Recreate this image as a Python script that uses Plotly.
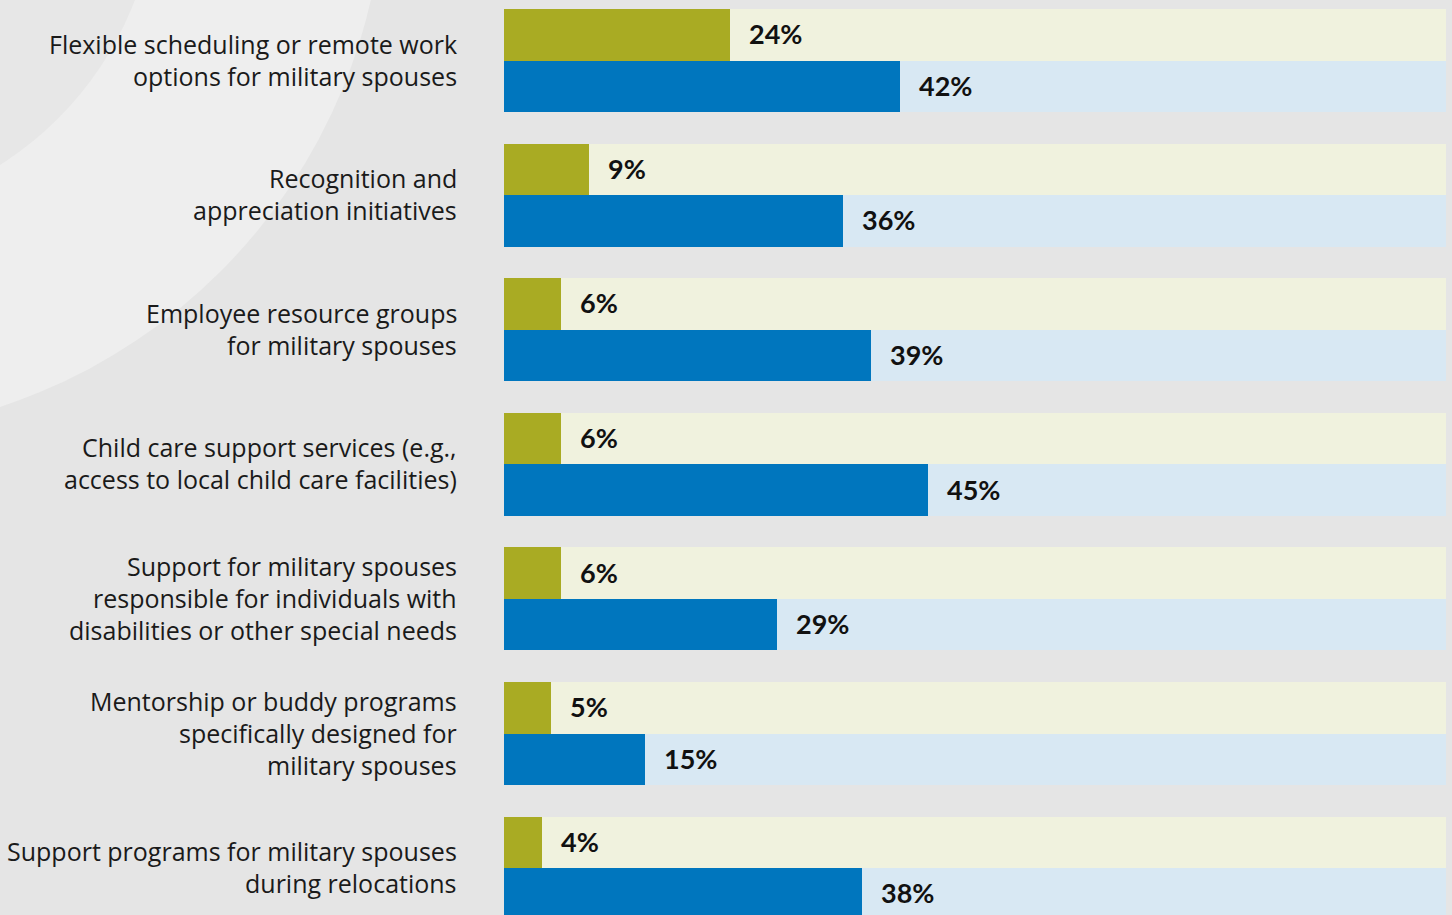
import plotly.graph_objects as go

# Survey items (top to bottom); <br> marks line breaks
categories = [
    "Flexible scheduling or remote work<br>options for military spouses",
    "Recognition and<br>appreciation initiatives",
    "Employee resource groups<br>for military spouses",
    "Child care support services (e.g.,<br>access to local child care facilities)",
    "Support for military spouses<br>responsible for individuals with<br>disabilities or other special needs",
    "Mentorship or buddy programs<br>specifically designed for<br>military spouses",
    "Support programs for military spouses<br>during relocations",
]
series_olive = [24, 9, 6, 6, 6, 5, 4]
series_blue = [42, 36, 39, 45, 29, 15, 38]
full_scale = [100] * len(categories)

OLIVE = "#a9ab23"
OLIVE_LIGHT = "#f0f2de"
BLUE = "#0076be"
BLUE_LIGHT = "#d8e8f3"

W, H = 1452, 915
PLOT_L, PLOT_R = 504, 1446
GROUP_PITCH = 134.6
FIRST_CENTER = 60.5
OFF = 0.1915
BAR_W = 0.383
LINE_H = 32

idx = list(range(len(categories)))
y_olive = [i - OFF for i in idx]
y_blue = [i + OFF for i in idx]

fig = go.Figure()
# full-width light tracks
fig.add_trace(go.Bar(x=full_scale, y=y_olive, orientation="h", width=BAR_W,
                     marker=dict(color=OLIVE_LIGHT, line=dict(width=0)),
                     hoverinfo="skip", showlegend=False))
fig.add_trace(go.Bar(x=full_scale, y=y_blue, orientation="h", width=BAR_W,
                     marker=dict(color=BLUE_LIGHT, line=dict(width=0)),
                     hoverinfo="skip", showlegend=False))
# value bars
fig.add_trace(go.Bar(x=series_olive, y=y_olive, orientation="h", width=BAR_W,
                     marker=dict(color=OLIVE, line=dict(width=0)), showlegend=False))
fig.add_trace(go.Bar(x=series_blue, y=y_blue, orientation="h", width=BAR_W,
                     marker=dict(color=BLUE, line=dict(width=0)), showlegend=False))

annotations = []
for vals, ys in ((series_olive, y_olive), (series_blue, y_blue)):
    for v, yv in zip(vals, ys):
        annotations.append(dict(
            x=v, y=yv, xref="x", yref="y", text=f"<b>{v}%</b>",
            showarrow=False, xanchor="left", yanchor="middle", xshift=17, yshift=1,
            font=dict(family="Lato", size=27, color="#111111")))

# category labels, one annotation per line for exact line spacing
for i, cat in enumerate(categories):
    lines = cat.split("<br>")
    n = len(lines)
    for k, line in enumerate(lines):
        annotations.append(dict(
            x=0, y=i, xref="paper", yref="y", text=line, showarrow=False,
            xanchor="right", yanchor="middle", xshift=-45,
            yshift=-(k - (n - 1) / 2) * LINE_H + 1,
            font=dict(family="Open Sans", size=25, color="#1a1a1a")))

# decorative background rings in the top-left corner
def px_to_paper_x(px):
    return (px - PLOT_L) / (PLOT_R - PLOT_L)

def px_to_paper_y(py):
    return (H - py) / H

def ring(cx, cy, r, color):
    return dict(type="circle", xref="paper", yref="paper", layer="below",
                x0=px_to_paper_x(cx - r), x1=px_to_paper_x(cx + r),
                y0=px_to_paper_y(cy + r), y1=px_to_paper_y(cy - r),
                fillcolor=color, line=dict(width=0))

shapes = [ring(-175, -125, 560, "#eeeeee"), ring(-180, -120, 337, "#e7e7e7")]

y_top = -FIRST_CENTER / GROUP_PITCH
y_bottom = (H - FIRST_CENTER) / GROUP_PITCH

fig.update_layout(
    width=W, height=H,
    margin=dict(l=PLOT_L, r=W - PLOT_R, t=0, b=0, pad=0),
    paper_bgcolor="#e5e5e5", plot_bgcolor="rgba(0,0,0,0)",
    barmode="overlay", bargap=0,
    xaxis=dict(range=[0, 100], visible=False, fixedrange=True),
    yaxis=dict(range=[y_bottom, y_top], visible=False, fixedrange=True),
    annotations=annotations, shapes=shapes,
)

fig.write_html("out.html", config={"displayModeBar": False})
